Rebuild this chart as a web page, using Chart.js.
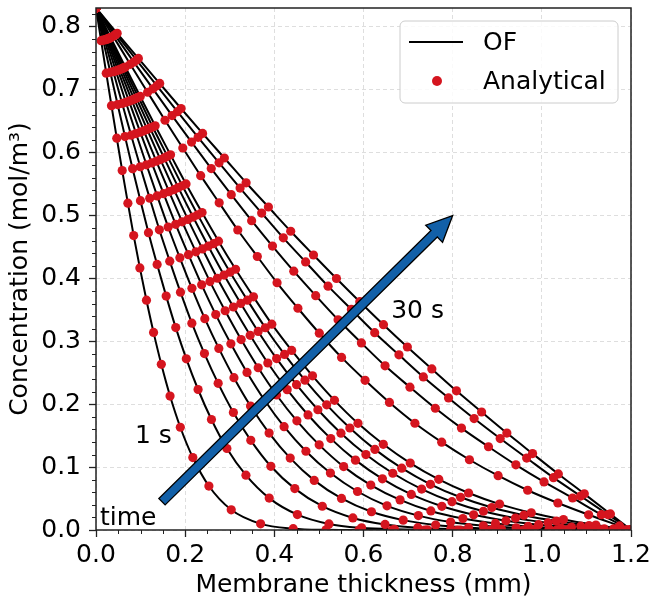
<!DOCTYPE html>
<html>
<head>
<meta charset="utf-8">
<script src="https://cdn.jsdelivr.net/npm/chart.js@4.4.1/dist/chart.umd.min.js"></script>
<style>
  body { margin: 0; background: #fff; }
  #wrap { width: 652px; height: 600px; }
</style>
</head>
<body>
<div id="wrap"><canvas id="profiles" width="652" height="600"></canvas></div>
<script>
// Perfiles de concentración (x en mm, C en mol/m3)
const times = [1, 2, 3, 4, 5, 6, 7, 8, 9, 10, 15, 20, 25, 30];

const x_1s = [0, 0.0115, 0.0230, 0.0347, 0.0466, 0.0588, 0.0715, 0.0845, 0.0984, 0.1132, 0.1291, 0.1465, 0.1661, 0.1891, 0.2172, 0.2532, 0.3033, 0.3692, 0.4423, 0.516, 0.590, 0.664, 0.737, 0.811, 0.885, 0.959, 1.033, 1.106, 1.180, 1.2];
const c_1s = [0.83, 0.778, 0.7264, 0.6747, 0.623, 0.5715, 0.5197, 0.4681, 0.4167, 0.3654, 0.3142, 0.2634, 0.2130, 0.1634, 0.1152, 0.0699, 0.0321, 0.0098, 0.0021, 0.0003, 0, 0, 0, 0, 0, 0, 0, 0, 0, 0];

const x_2s = [0, 0.0160, 0.0321, 0.0485, 0.0651, 0.0821, 0.0997, 0.1177, 0.1371, 0.1574, 0.1789, 0.2026, 0.2290, 0.2589, 0.2936, 0.3363, 0.3885, 0.4517, 0.5225, 0.5957, 0.6695, 0.7432, 0.817, 0.891, 0.965, 1.039, 1.112, 1.186, 1.2];
const c_2s = [0.83, 0.7789, 0.7277, 0.6765, 0.6255, 0.5745, 0.5236, 0.4728, 0.4222, 0.3719, 0.3218, 0.2722, 0.2234, 0.1757, 0.1296, 0.0872, 0.0507, 0.0245, 0.0097, 0.0034, 0.0010, 0.0003, 0, 0, 0, 0, 0, 0, 0];

const x_3s = [0, 0.0194, 0.0389, 0.0587, 0.0788, 0.0993, 0.1205, 0.1421, 0.1654, 0.1895, 0.2150, 0.2432, 0.2740, 0.3082, 0.3472, 0.3922, 0.4459, 0.5076, 0.5762, 0.6484, 0.7219, 0.7958, 0.8696, 0.9434, 1.0172, 1.091, 1.165, 1.2];
const c_3s = [0.83, 0.7793, 0.7287, 0.6783, 0.6278, 0.5776, 0.5275, 0.4773, 0.4275, 0.3781, 0.3289, 0.2806, 0.2332, 0.1868, 0.1426, 0.1013, 0.0658, 0.0378, 0.0192, 0.0088, 0.0037, 0.0014, 0.0005, 0.0002, 0, 0, 0, 0];

const x_4s = [0, 0.0222, 0.0444, 0.0670, 0.0898, 0.1132, 0.1372, 0.1619, 0.1881, 0.2152, 0.2441, 0.2755, 0.3094, 0.3466, 0.3883, 0.4356, 0.4895, 0.5507, 0.6179, 0.6891, 0.7619, 0.8354, 0.9093, 0.983, 1.0567, 1.1305, 1.2];
const c_4s = [0.83, 0.7800, 0.7300, 0.6801, 0.6304, 0.5807, 0.5312, 0.4818, 0.4328, 0.3842, 0.3360, 0.2887, 0.2422, 0.1971, 0.1541, 0.1143, 0.0789, 0.0502, 0.0290, 0.0157, 0.0078, 0.0037, 0.0016, 0.0007, 0.0003, 0.0001, 0];

const x_5s = [0, 0.0245, 0.0491, 0.0740, 0.0992, 0.1250, 0.1515, 0.1787, 0.2074, 0.2370, 0.2686, 0.3025, 0.3387, 0.3782, 0.4219, 0.4709, 0.5258, 0.5866, 0.6527, 0.7231, 0.7954, 0.8688, 0.9424, 1.0162, 1.090, 1.1637, 1.2];
const c_5s = [0.83, 0.7804, 0.7311, 0.6818, 0.6326, 0.5836, 0.5347, 0.4860, 0.4377, 0.3898, 0.3425, 0.2960, 0.2505, 0.2063, 0.1643, 0.1252, 0.0905, 0.0612, 0.0384, 0.0229, 0.0126, 0.0067, 0.0034, 0.0016, 0.0007, 0.0002, 0];

const x_6s = [0, 0.0266, 0.0532, 0.0802, 0.1074, 0.1354, 0.1639, 0.1933, 0.2241, 0.2557, 0.2897, 0.3256, 0.3638, 0.4050, 0.4506, 0.5006, 0.5555, 0.6163, 0.6820, 0.7511, 0.8229, 0.8959, 0.9693, 1.0432, 1.117, 1.191, 1.2];
const c_6s = [0.83, 0.7809, 0.7321, 0.6834, 0.6347, 0.5863, 0.5380, 0.4900, 0.4423, 0.3950, 0.3486, 0.3028, 0.2580, 0.2147, 0.1736, 0.1354, 0.1008, 0.0714, 0.0479, 0.0303, 0.0183, 0.0104, 0.0057, 0.0029, 0.0013, 0.0001, 0];

const x_7s = [0, 0.0284, 0.0568, 0.0857, 0.1147, 0.1445, 0.1749, 0.2062, 0.2388, 0.2722, 0.3082, 0.3458, 0.3854, 0.4288, 0.4756, 0.5266, 0.5820, 0.6424, 0.7072, 0.7758, 0.8470, 0.9195, 0.9928, 1.0664, 1.140, 1.2];
const c_7s = [0.83, 0.7815, 0.7332, 0.6850, 0.6369, 0.5890, 0.5412, 0.4939, 0.4469, 0.4003, 0.3546, 0.3096, 0.2655, 0.2232, 0.1829, 0.1453, 0.1111, 0.0813, 0.0565, 0.0377, 0.0242, 0.0147, 0.0084, 0.0046, 0.0018, 0];

const x_8s = [0, 0.0300, 0.0600, 0.0906, 0.1212, 0.1528, 0.1847, 0.2178, 0.2519, 0.2872, 0.3247, 0.3637, 0.4051, 0.4498, 0.4977, 0.5494, 0.6054, 0.6657, 0.7304, 0.7985, 0.8689, 0.9410, 1.0140, 1.0875, 1.1611, 1.2];
const c_8s = [0.83, 0.7820, 0.7343, 0.6866, 0.6390, 0.5916, 0.5444, 0.4976, 0.4513, 0.4053, 0.3602, 0.3157, 0.2725, 0.2310, 0.1912, 0.1540, 0.1200, 0.0902, 0.0651, 0.0450, 0.0298, 0.0189, 0.0114, 0.0061, 0.0019, 0];

const x_9s = [0, 0.0315, 0.0631, 0.0951, 0.1272, 0.1603, 0.1937, 0.2283, 0.2639, 0.3008, 0.3396, 0.3798, 0.4228, 0.4687, 0.5174, 0.5694, 0.6256, 0.6858, 0.7501, 0.8177, 0.8878, 0.9597, 1.0324, 1.1058, 1.1793, 1.2];
const c_9s = [0.83, 0.7825, 0.7351, 0.6881, 0.6408, 0.5941, 0.5474, 0.5011, 0.4553, 0.4099, 0.3655, 0.3216, 0.2792, 0.2382, 0.1990, 0.1622, 0.1282, 0.0983, 0.0727, 0.0520, 0.0358, 0.0235, 0.0142, 0.0071, 0.0012, 0];

const x_10s = [0, 0.0329, 0.0658, 0.0992, 0.1327, 0.1672, 0.2019, 0.2379, 0.2748, 0.3131, 0.3532, 0.3944, 0.4389, 0.4856, 0.5349, 0.5876, 0.6444, 0.7048, 0.7688, 0.8357, 0.9052, 0.9763, 1.0485, 1.1212, 1.1943, 1.2];
const c_10s = [0.83, 0.7829, 0.7362, 0.6894, 0.6428, 0.5965, 0.5503, 0.5047, 0.4593, 0.4146, 0.3707, 0.3273, 0.2855, 0.2451, 0.2062, 0.1696, 0.1363, 0.1064, 0.0805, 0.0588, 0.0412, 0.0274, 0.0166, 0.0078, 0.0004, 0];

const x_15s = [0, 0.0384, 0.0768, 0.1158, 0.1548, 0.1947, 0.2348, 0.2763, 0.3180, 0.3618, 0.4061, 0.4529, 0.5009, 0.5508, 0.6036, 0.6582, 0.7153, 0.7754, 0.8376, 0.9020, 0.9682, 1.0360, 1.1050, 1.1743, 1.2];
const c_15s = [0.83, 0.7852, 0.7405, 0.6960, 0.6515, 0.6074, 0.5634, 0.5202, 0.4770, 0.4349, 0.3931, 0.3526, 0.3129, 0.2744, 0.2380, 0.2028, 0.1697, 0.1396, 0.1117, 0.0863, 0.0632, 0.0429, 0.0242, 0.0065, 0];

const x_20s = [0, 0.0424, 0.0849, 0.1277, 0.1706, 0.2143, 0.2585, 0.3034, 0.3491, 0.3958, 0.4436, 0.4928, 0.5430, 0.5953, 0.6484, 0.7042, 0.7611, 0.8197, 0.8803, 0.9418, 1.0049, 1.0690, 1.1335, 1.2];
const c_20s = [0.83, 0.7868, 0.7440, 0.7015, 0.6590, 0.6168, 0.5747, 0.5332, 0.4919, 0.4514, 0.4115, 0.3726, 0.3342, 0.2974, 0.2611, 0.2271, 0.1936, 0.1620, 0.1324, 0.1036, 0.0764, 0.0509, 0.0244, 0];

const x_25s = [0, 0.0455, 0.0910, 0.1367, 0.1827, 0.2290, 0.2760, 0.3232, 0.3716, 0.4201, 0.4702, 0.5205, 0.5728, 0.6251, 0.6795, 0.7343, 0.7908, 0.8481, 0.9066, 0.9660, 1.0261, 1.0870, 1.1480, 1.2];
const c_25s = [0.83, 0.7885, 0.7473, 0.7063, 0.6651, 0.6243, 0.5838, 0.5436, 0.5040, 0.4645, 0.4262, 0.3877, 0.3508, 0.3137, 0.2785, 0.2434, 0.2100, 0.1772, 0.1454, 0.1144, 0.0832, 0.0540, 0.0246, 0];

const x_30s = [0, 0.0475, 0.0951, 0.1429, 0.1908, 0.2391, 0.2879, 0.3367, 0.3867, 0.4367, 0.4878, 0.5393, 0.5916, 0.6448, 0.6984, 0.7533, 0.8085, 0.8649, 0.9216, 0.9792, 1.0370, 1.0953, 1.1538, 1.2];
const c_30s = [0.83, 0.7898, 0.7498, 0.7100, 0.6702, 0.6306, 0.5915, 0.5521, 0.5136, 0.4750, 0.4373, 0.3999, 0.3630, 0.3265, 0.2910, 0.2561, 0.2213, 0.1876, 0.1541, 0.1215, 0.0891, 0.0575, 0.0255, 0];

// Marcas de los ejes
const xTicks = [0, 0.2, 0.4, 0.6, 0.8, 1.0, 1.2];
const yTicks = [0, 0.1, 0.2, 0.3, 0.4, 0.5, 0.6, 0.7, 0.8];

const profiles = [
    [x_1s, c_1s], [x_2s, c_2s], [x_3s, c_3s], [x_4s, c_4s], [x_5s, c_5s],
    [x_6s, c_6s], [x_7s, c_7s], [x_8s, c_8s], [x_9s, c_9s], [x_10s, c_10s],
    [x_15s, c_15s], [x_20s, c_20s], [x_25s, c_25s], [x_30s, c_30s]
];

const FONT = "'DejaVu Sans', sans-serif";
const RED = '#d5151f';
const BLUE = '#1260a8';

Chart.defaults.font.family = FONT;
Chart.defaults.color = '#000';

function toPoints(xs, cs) {
    return xs.map((x, j) => ({ x: x, y: cs[j] }));
}

// Lineas (OF) debajo, puntos (Analytical) encima
const lineSets = profiles.map((p, i) => ({
    label: 'OF ' + times[i] + ' s',
    data: toPoints(p[0], p[1]),
    showLine: true,
    borderColor: '#000',
    borderWidth: 2,
    pointRadius: 0,
    cubicInterpolationMode: 'monotone',
    order: 1
}));

const dotSets = profiles.map((p, i) => ({
    label: 'Analytical ' + times[i] + ' s',
    data: toPoints(p[0], p[1]),
    showLine: false,
    pointRadius: 4.6,
    pointBackgroundColor: RED,
    pointBorderWidth: 0,
    order: 0
}));

// Marco, ticks menores, flecha, textos y leyenda
const decor = {
    id: 'decor',
    afterDatasetsDraw(chart) {
        const ctx = chart.ctx;
        const a = chart.chartArea;
        const sx = chart.scales.x, sy = chart.scales.y;
        ctx.save();

        // ticks menores
        ctx.strokeStyle = '#222';
        ctx.lineWidth = 1;
        ctx.beginPath();
        for (let k = 1; k < 24; k++) {
            if (k % 4 === 0) continue;
            const px = Math.round(sx.getPixelForValue(k * 0.05)) + 0.5;
            ctx.moveTo(px, a.bottom);
            ctx.lineTo(px, a.bottom + 4);
        }
        for (let k = 1; k < 42; k++) {
            if (k % 5 === 0) continue;
            const py = Math.round(sy.getPixelForValue(k * 0.02)) + 0.5;
            ctx.moveTo(a.left, py);
            ctx.lineTo(a.left - 4, py);
        }
        ctx.stroke();

        // marco
        ctx.strokeStyle = '#222';
        ctx.lineWidth = 1.5;
        ctx.strokeRect(a.left, a.top, a.right - a.left, a.bottom - a.top);

        // flecha del tiempo
        const tx = sx.getPixelForValue(0.148), ty = sy.getPixelForValue(0.045);
        const hx = sx.getPixelForValue(0.80), hy = sy.getPixelForValue(0.50);
        const len = Math.hypot(hx - tx, hy - ty);
        const ux = (hx - tx) / len, uy = (hy - ty) / len;
        const nx = -uy, ny = ux;
        const w = 4.5, hw = 12, hl = 26;
        const bx = hx - ux * hl, by = hy - uy * hl;
        ctx.beginPath();
        ctx.moveTo(tx + nx * w, ty + ny * w);
        ctx.lineTo(bx + nx * w, by + ny * w);
        ctx.lineTo(bx + nx * hw, by + ny * hw);
        ctx.lineTo(hx, hy);
        ctx.lineTo(bx - nx * hw, by - ny * hw);
        ctx.lineTo(bx - nx * w, by - ny * w);
        ctx.lineTo(tx - nx * w, ty - ny * w);
        ctx.closePath();
        ctx.fillStyle = BLUE;
        ctx.fill();
        ctx.strokeStyle = '#000';
        ctx.lineWidth = 1.3;
        ctx.stroke();

        // textos
        ctx.fillStyle = '#000';
        ctx.font = '25px ' + FONT;
        ctx.textAlign = 'left';
        ctx.textBaseline = 'alphabetic';
        ctx.fillText('1 s', sx.getPixelForValue(0.0875), sy.getPixelForValue(0.138));
        ctx.fillText('30 s', sx.getPixelForValue(0.662), sy.getPixelForValue(0.337));
        ctx.fillText('time', sx.getPixelForValue(0.009), sy.getPixelForValue(0.008));

        // leyenda
        const lw = 218, lh = 82;
        const lx = a.right - 13 - lw, ly = a.top + 13;
        ctx.beginPath();
        ctx.roundRect(lx, ly, lw, lh, 5);
        ctx.fillStyle = 'rgba(255,255,255,0.85)';
        ctx.fill();
        ctx.strokeStyle = '#cccccc';
        ctx.lineWidth = 1;
        ctx.stroke();

        ctx.beginPath();
        ctx.moveTo(lx + 9, ly + 21);
        ctx.lineTo(lx + 63, ly + 21);
        ctx.strokeStyle = '#000';
        ctx.lineWidth = 2;
        ctx.stroke();

        ctx.beginPath();
        ctx.arc(lx + 37, ly + 60, 5, 0, Math.PI * 2);
        ctx.fillStyle = RED;
        ctx.fill();

        ctx.fillStyle = '#000';
        ctx.textBaseline = 'middle';
        ctx.fillText('OF', lx + 83, ly + 22);
        ctx.fillText('Analytical', lx + 83, ly + 61);

        ctx.restore();
    }
};

const ctx = document.getElementById('profiles').getContext('2d');
const profileChart = new Chart(ctx, {
    type: 'scatter',
    data: { datasets: lineSets.concat(dotSets) },
    options: {
        responsive: false,
        animation: false,
        devicePixelRatio: 1,
        layout: { padding: { top: 8, right: 21, bottom: 0, left: 0 } },
        plugins: {
            legend: { display: false },
            tooltip: { enabled: false }
        },
        scales: {
            x: {
                type: 'linear',
                min: 0,
                max: 1.2,
                afterBuildTicks: s => { s.ticks = xTicks.map(v => ({ value: v })); },
                afterFit: s => { s.height = 70; s.paddingLeft = 0; s.paddingRight = 0; },
                ticks: {
                    autoSkip: false,
                    maxRotation: 0,
                    padding: 3,
                    font: { size: 25 },
                    color: '#000',
                    callback: v => v.toFixed(1)
                },
                grid: {
                    color: 'rgba(0,0,0,0.13)',
                    lineWidth: 1,
                    tickLength: 7,
                    tickColor: '#222',
                    tickWidth: 1.3
                },
                border: { display: false, dash: [4, 3] },
                title: {
                    display: true,
                    text: 'Membrane thickness (mm)',
                    font: { size: 25 },
                    color: '#000',
                    padding: { top: 0, bottom: 0 }
                }
            },
            y: {
                type: 'linear',
                min: 0,
                max: 0.83,
                afterBuildTicks: s => { s.ticks = yTicks.map(v => ({ value: v })); },
                afterFit: s => { s.width = 96; s.paddingTop = 0; s.paddingBottom = 0; },
                ticks: {
                    autoSkip: false,
                    padding: 8,
                    font: { size: 25 },
                    color: '#000',
                    callback: v => v.toFixed(1)
                },
                grid: {
                    color: 'rgba(0,0,0,0.13)',
                    lineWidth: 1,
                    tickLength: 7,
                    tickColor: '#222',
                    tickWidth: 1.3
                },
                border: { display: false, dash: [4, 3] },
                title: {
                    display: true,
                    text: 'Concentration (mol/m³)',
                    font: { size: 25 },
                    color: '#000',
                    padding: { top: 5, bottom: 0 }
                }
            }
        }
    },
    plugins: [decor]
});
</script>
</body>
</html>
